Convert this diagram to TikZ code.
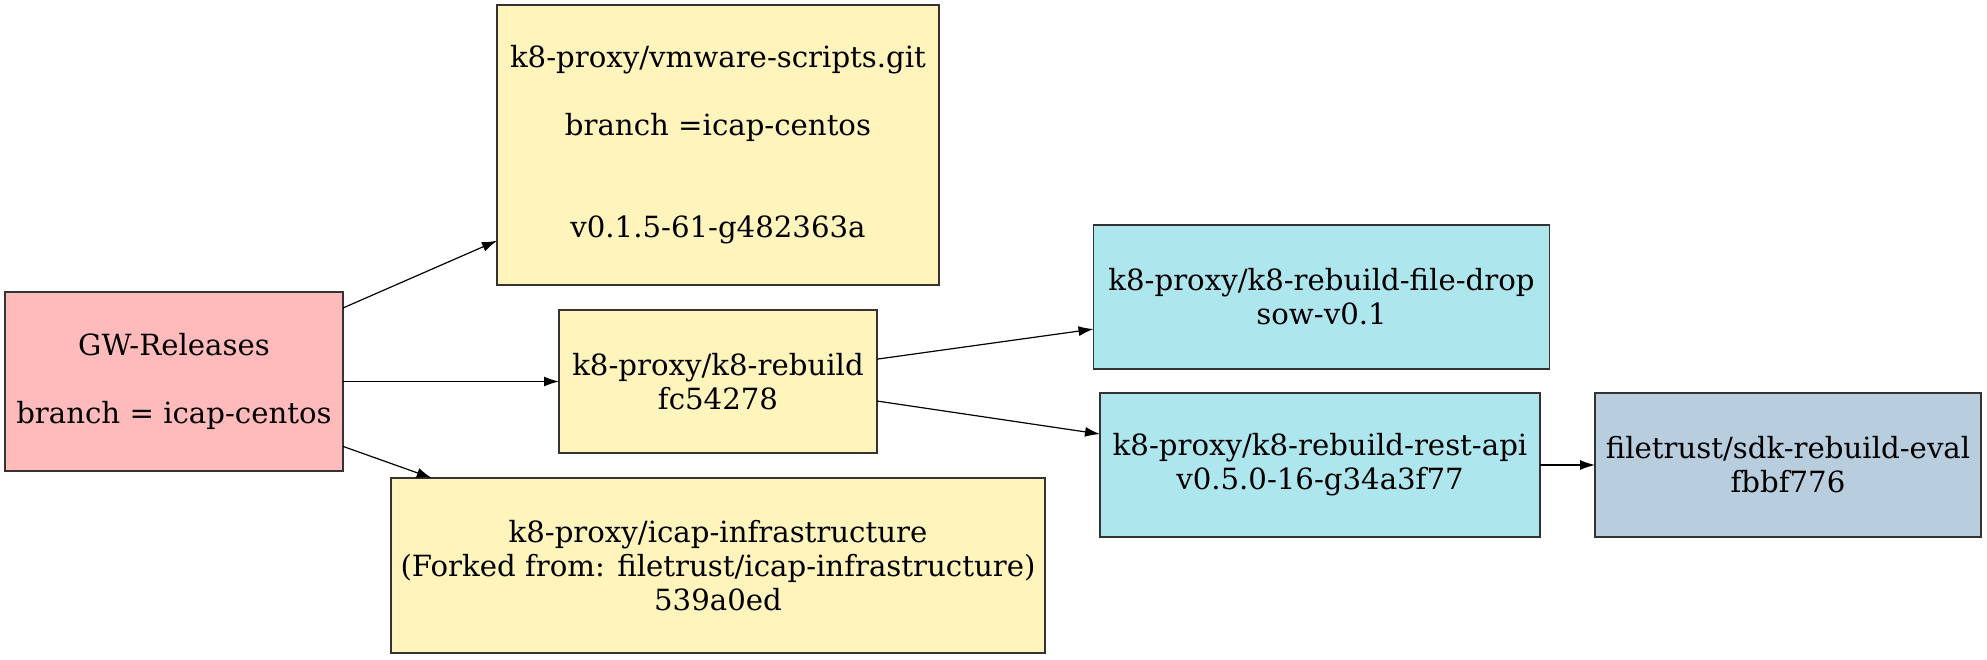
\documentclass[tikz,border=0pt]{standalone}
\usepackage{fontspec}
\setmainfont{DejaVu Serif}
\usetikzlibrary{arrows.meta}

\definecolor{relpink}{HTML}{FFBBBB}
\definecolor{repoyellow}{HTML}{FFF4BB}
\definecolor{repocyan}{HTML}{AEE6EE}
\definecolor{reposteel}{HTML}{B8CEDE}

\tikzset{
    repobox/.style={draw=black!80, line width=0.8pt, inner sep=0pt, outer sep=0pt,
        align=center, font=\fontsize{14.6}{17}\selectfont},
    dep/.style={line width=0.6pt, -{Latex[length=7.5pt,width=5pt]}}
}

\begin{document}
\begin{tikzpicture}[x=0.5pt, y=-0.5pt]
    \useasboundingbox (0,0) rectangle (1987,659);
    % Below nodes are the repositories.
        \node[repobox, fill=relpink, minimum width=169pt, minimum height=89.5pt] (gw) at (174,381.5)
            {GW-Releases\\[17pt]branch = icap-centos};
        \node[repobox, fill=repoyellow, minimum width=221pt, minimum height=140pt] (vmware) at (718,145)
            {k8-proxy/vmware-scripts.git\\[17pt]branch =icap-centos\\[34pt]v0.1.5-61-g482363a};
        \node[repobox, fill=repoyellow, minimum width=159pt, minimum height=71.5pt] (rebuild) at (718,381.5)
            {k8-proxy/k8-rebuild\\fc54278};
        \node[repobox, fill=repoyellow, minimum width=327pt, minimum height=87.5pt] (infra) at (718,565.5)
            {k8-proxy/icap-infrastructure\\(Forked from: filetrust/icap-infrastructure)\\539a0ed};
        \node[repobox, fill=repocyan, minimum width=228pt, minimum height=72pt] (filedrop) at (1321.5,297)
            {k8-proxy/k8-rebuild-file-drop\\sow-v0.1};
        \node[repobox, fill=repocyan, minimum width=220pt, minimum height=72pt] (restapi) at (1320,465)
            {k8-proxy/k8-rebuild-rest-api\\v0.5.0-16-g34a3f77};
        \node[repobox, fill=reposteel, minimum width=193pt, minimum height=72pt] (sdk) at (1788,465)
            {filetrust/sdk-rebuild-eval\\fbbf776};
    % This draws the dependencies.
        \draw[dep] (gw) -- (vmware);
        \draw[dep] (gw.east) -- (rebuild.west);
        \draw[dep] (gw.-21.5) -- (infra.163.4);
        \draw[dep] (rebuild.8.05) -- (filedrop.-172.3);
        \draw[dep] (rebuild.-7.7) -- (restapi.172.2);
        \draw[dep] (restapi.east) -- (sdk.west);
\end{tikzpicture}
\end{document}
